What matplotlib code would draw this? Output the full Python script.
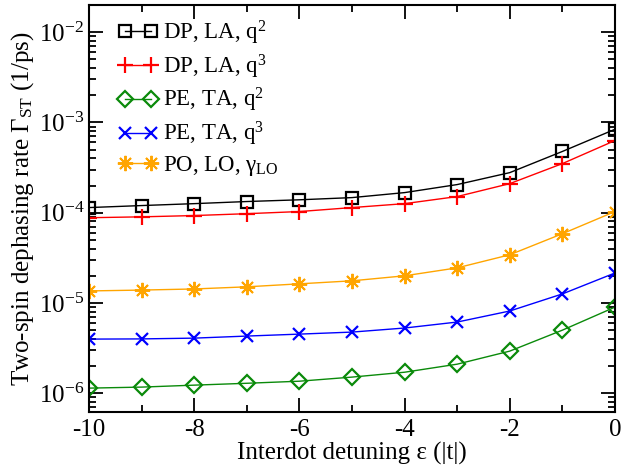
import numpy as np
import matplotlib
matplotlib.use("Agg")
import matplotlib.pyplot as plt

plt.rcParams['font.family'] = ['Liberation Serif', 'DejaVu Serif']
plt.rcParams['mathtext.fontset'] = 'custom'
plt.rcParams['mathtext.rm'] = 'Liberation Serif'
plt.rcParams['mathtext.it'] = 'Liberation Serif:italic'
plt.rcParams['mathtext.default'] = 'regular'
plt.rcParams['axes.unicode_minus'] = False

# detuning values (units of |t|)
detuning = [-10, -9, -8, -7, -6, -5, -4, -3, -2, -1, 0]

# dephasing rates (1/ps)
dp_la_q2 = [1.14e-4, 1.20e-4, 1.26e-4, 1.33e-4, 1.39e-4, 1.47e-4,
            1.67e-4, 2.05e-4, 2.78e-4, 4.77e-4, 8.4e-4]
dp_la_q3 = [8.8e-5, 9.0e-5, 9.3e-5, 9.75e-5, 1.03e-4, 1.14e-4,
            1.26e-4, 1.51e-4, 2.10e-4, 3.50e-4, 6.3e-4]
pe_ta_q2 = [1.14e-6, 1.17e-6, 1.23e-6, 1.29e-6, 1.36e-6, 1.51e-6,
            1.71e-6, 2.10e-6, 2.93e-6, 5.0e-6, 9.0e-6]
pe_ta_q3 = [3.98e-6, 4.0e-6, 4.08e-6, 4.3e-6, 4.52e-6, 4.76e-6,
            5.28e-6, 6.15e-6, 8.15e-6, 1.26e-5, 2.15e-5]
po_lo = [1.36e-5, 1.39e-5, 1.43e-5, 1.51e-5, 1.63e-5, 1.76e-5,
         2.0e-5, 2.45e-5, 3.42e-5, 5.85e-5, 1.03e-4]

labels = ['DP, LA, q$^2$', 'DP, LA, q$^3$', 'PE, TA, q$^2$',
          'PE, TA, q$^3$', r'PO, LO, γ$_{\mathrm{LO}}$']

fig = plt.figure(figsize=(6.21, 4.70), dpi=100)
ax = fig.add_axes([0.1433, 0.1234, 0.8470, 0.8660])

ax.plot(detuning, dp_la_q2, color='black', lw=1.0, marker='s', ms=9,
        mfc='none', mew=1.6, label=labels[0])
ax.plot(detuning, dp_la_q3, color='red', lw=1.0, marker='+', ms=12,
        mew=1.6, label=labels[1])
ax.plot(detuning, pe_ta_q2, color='#0a8a0a', lw=1.0, marker='D', ms=8,
        mfc='none', mew=1.6, label=labels[2])
ax.plot(detuning, pe_ta_q3, color='blue', lw=1.0, marker='x', ms=9,
        mew=1.6, label=labels[3])
ax.plot(detuning, po_lo, color='orange', lw=1.0, marker=(8, 2, 0), ms=11,
        mew=1.4, label=labels[4])

ax.set_yscale('log')
ax.set_xlim(-10, 0)
ax.set_ylim(6.2e-7, 2e-2)
ax.set_xticks([-10, -8, -6, -4, -2, 0])
ax.set_xticks([-9, -7, -5, -3, -1], minor=True)

ax.tick_params(which='both', direction='in', top=True, right=True,
               labelsize=18, width=1.3)
ax.tick_params(which='major', length=10)
ax.tick_params(which='minor', length=5)
ax.tick_params(axis='x', pad=5)
for s in ax.spines.values():
    s.set_linewidth(1.5)

ax.set_xlabel('Interdot detuning ε (|t|)', fontsize=18, labelpad=1)
ax.set_ylabel(r'Two-spin dephasing rate Γ$_{\mathrm{ST}}$ (1/ps)',
              fontsize=18, labelpad=2)

ax.legend(loc='upper left', frameon=False, numpoints=2, fontsize=16.5,
          handlelength=1.7, handletextpad=0.25, labelspacing=0.24,
          borderaxespad=0.2, bbox_to_anchor=(0.03, 1.0))

fig.savefig('out.png', dpi=100)
